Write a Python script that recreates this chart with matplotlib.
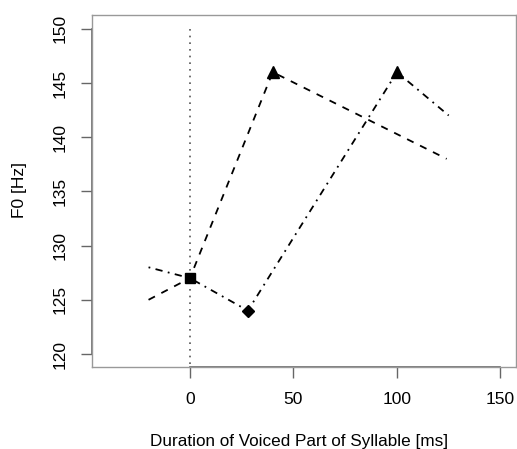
import matplotlib
matplotlib.use("Agg")
import matplotlib.pyplot as plt

plt.rcParams['font.family'] = ['Liberation Sans', 'DejaVu Sans']

# series (x in ms, y in Hz)
dash_x = [-20, 0, 40, 124]
dash_y = [125, 127, 146, 138]
dashdot_x = [-20, 0, 28, 100, 125]
dashdot_y = [128, 127, 124, 146, 142]

square_pt = (0, 127)
triangle_x = [40, 100]
triangle_y = [146, 146]
diamond_pt = (28, 124)

xticks = [0, 50, 100, 150]
yticks = [120, 125, 130, 135, 140, 145, 150]

fig = plt.figure(figsize=(5.17, 4.49), dpi=100)
ax = fig.add_axes([0.178, 0.1833, 0.820, 0.7826])
ax.set_xlim(-47.3, 157.5)
ax.set_ylim(118.83, 151.24)

# reference line at onset
ax.plot([0, 0], [150, 118.83], color='#555555', lw=1.2, linestyle=(0, (1, 3)))

ax.plot(dash_x, dash_y, color='black', lw=1.3, linestyle=(0, (4, 4)))
ax.plot(dashdot_x, dashdot_y, color='black', lw=1.3, linestyle=(0, (1, 3, 4, 3)))

ax.plot([square_pt[0]], [square_pt[1]], 's', color='black', ms=7.2)
ax.plot(triangle_x, triangle_y, '^', color='black', ms=9)
ax.plot([diamond_pt[0]], [diamond_pt[1]], 'D', color='black', ms=5.8)

for s in ax.spines.values():
    s.set_color('#999999')
    s.set_linewidth(1.0)

# R style axis lines between first and last tick
ax.plot([xticks[0], xticks[-1]], [118.83, 118.83], color='#666666', lw=1.2, clip_on=False)
ax.plot([-47.3, -47.3], [yticks[0], yticks[-1]], color='#666666', lw=1.2, clip_on=False)

ax.set_xticks(xticks)
ax.set_yticks(yticks)
ax.tick_params(axis='both', direction='out', length=7.7, width=1.0, color='#666666',
               labelsize=12.5, pad=10)
ax.tick_params(axis='x', pad=10.5)
for lab in ax.get_yticklabels():
    lab.set_rotation(90)
    lab.set_va('center')

fig.text(0.578, 0.0178, 'Duration of Voiced Part of Syllable [ms]', ha='center', va='center',
         fontsize=12.3)
fig.text(0.038, 0.577, 'F0 [Hz]', ha='center', va='center', rotation=90, fontsize=12.5)

fig.savefig('out.png', dpi=100)
